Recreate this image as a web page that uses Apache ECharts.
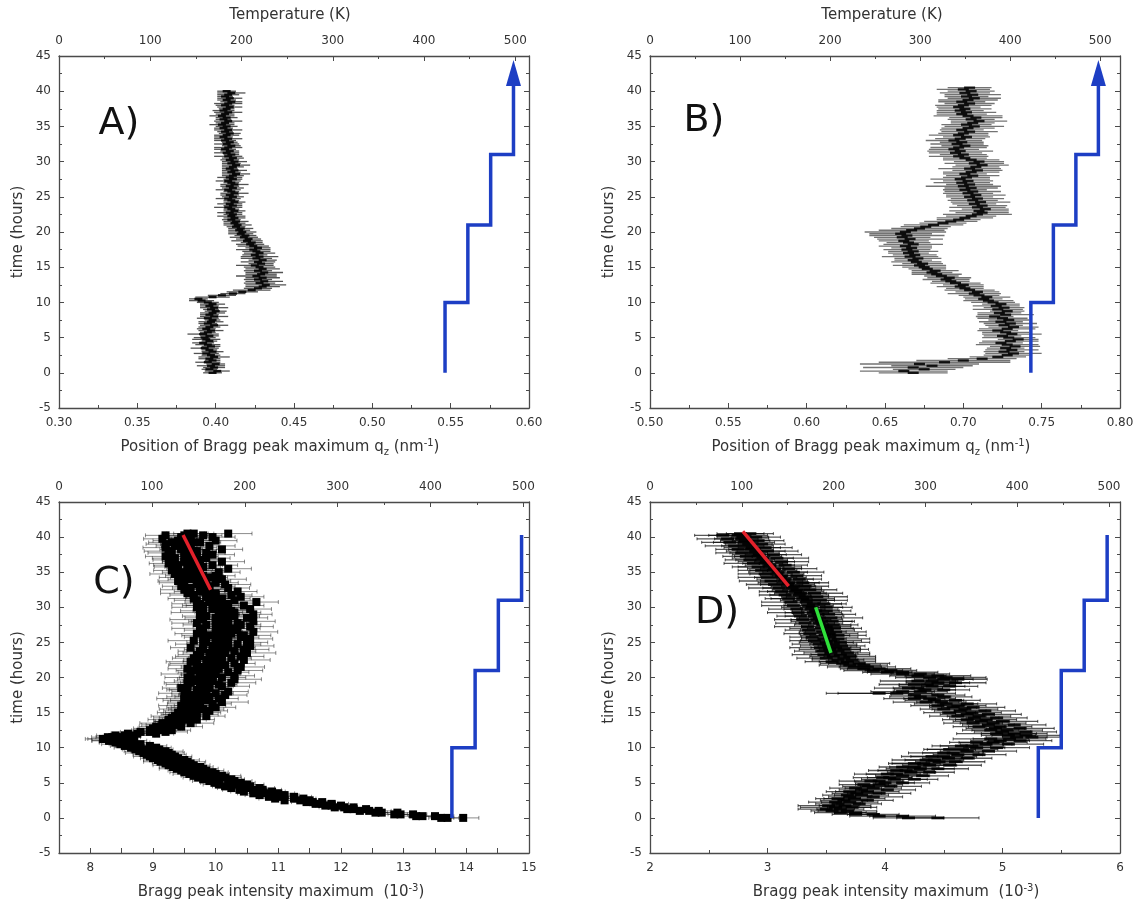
<!DOCTYPE html>
<html>
<head>
<meta charset="utf-8">
<script src="https://cdn.jsdelivr.net/npm/echarts@6/dist/echarts.min.js"></script>
<style>
html,body{margin:0;padding:0;background:#fff;}
#chart{width:1137px;height:905px;}
</style>
</head>
<body>
<div id="chart"></div>
<script>
// ---- measurement times (hours) ----
const hours = [0,0.25,0.5,0.75,1,1.25,1.5,1.75,2,2.25,2.5,2.75,3,3.25,3.5,3.75,4,4.25,4.5,4.75,5,5.25,5.5,5.75,6,6.25,6.5,6.75,7,7.25,7.5,7.75,8,8.25,8.5,8.75,9,9.25,9.5,9.75,10,10.25,10.5,10.75,11,11.25,11.5,11.75,12,12.25,12.5,12.75,13,13.25,13.5,13.75,14,14.25,14.5,14.75,15,15.25,15.5,15.75,16,16.25,16.5,16.75,17,17.25,17.5,17.75,18,18.25,18.5,18.75,19,19.25,19.5,19.75,20,20.25,20.5,20.75,21,21.25,21.5,21.75,22,22.25,22.5,22.75,23,23.25,23.5,23.75,24,24.25,24.5,24.75,25,25.25,25.5,25.75,26,26.25,26.5,26.75,27,27.25,27.5,27.75,28,28.25,28.5,28.75,29,29.25,29.5,29.75,30,30.25,30.5,30.75,31,31.25,31.5,31.75,32,32.25,32.5,32.75,33,33.25,33.5,33.75,34,34.25,34.5,34.75,35,35.25,35.5,35.75,36,36.25,36.5,36.75,37,37.25,37.5,37.75,38,38.25,38.5,38.75,39,39.25,39.5,39.75,40,40.25,40.5];

// ---- Panel A: Bragg peak position q_z (nm^-1) ----
const aPos = [
0.398,0.401,0.396,0.399,0.397,0.400,0.395,0.398,0.396,0.399,
0.397,0.394,0.398,0.396,0.393,0.397,0.395,0.392,0.396,0.394,
0.393,0.396,0.392,0.395,0.397,0.394,0.396,0.399,0.395,0.397,
0.398,0.395,0.399,0.396,0.398,0.400,0.397,0.399,0.396,0.398,
0.395,0.391,0.389,0.398,0.404,0.411,0.417,0.423,0.427,0.430,
0.432,0.428,0.431,0.427,0.430,0.426,0.429,0.431,0.427,0.430,
0.428,0.425,0.429,0.427,0.430,0.426,0.428,0.425,0.428,0.426,
0.424,0.427,0.424,0.422,0.423,0.420,0.421,0.418,0.419,0.416,
0.417,0.415,0.416,0.413,0.414,0.412,0.413,0.410,0.412,0.410,
0.411,0.409,0.412,0.410,0.408,0.411,0.409,0.412,0.410,0.408,
0.411,0.409,0.412,0.410,0.408,0.411,0.409,0.412,0.410,0.408,
0.411,0.409,0.411,0.413,0.410,0.412,0.409,0.411,0.413,0.410,
0.412,0.409,0.411,0.408,0.410,0.407,0.409,0.406,0.408,0.410,
0.407,0.409,0.406,0.408,0.405,0.407,0.409,0.406,0.408,0.405,
0.407,0.404,0.406,0.408,0.405,0.407,0.404,0.406,0.408,0.405,
0.407,0.409,0.406,0.408,0.410,0.407,0.409,0.406,0.408,0.410,
0.407];
const aErr = [
.006,.008,.005,.007,.009,.006,.008,.005,.007,.010,
.006,.008,.007,.005,.009,.006,.008,.007,.005,.009,
.007,.006,.010,.005,.008,.006,.007,.009,.006,.008,
.005,.007,.009,.006,.008,.007,.005,.009,.006,.008,
.007,.008,.006,.011,.009,.008,.010,.012,.009,.011,
.013,.010,.012,.009,.011,.013,.010,.012,.009,.011,
.010,.012,.008,.011,.009,.010,.012,.008,.010,.009,
.011,.008,.010,.009,.007,.010,.008,.009,.007,.008,
.009,.007,.008,.006,.009,.007,.008,.006,.007,.009,
.006,.008,.007,.005,.009,.006,.008,.007,.005,.008,
.007,.006,.009,.005,.008,.007,.006,.009,.005,.008,
.006,.008,.007,.009,.006,.008,.005,.007,.009,.006,
.008,.006,.007,.009,.005,.008,.006,.007,.009,.006,
.008,.005,.007,.009,.006,.008,.007,.005,.009,.006,
.007,.008,.006,.009,.005,.007,.008,.006,.009,.007,
.005,.008,.006,.009,.007,.006,.008,.005,.007,.009,
.006];

// ---- Panel B: Bragg peak position q_z (nm^-1) ----
const bPos = [
0.668,0.662,0.675,0.668,0.680,0.672,0.688,0.700,0.712,0.722,
0.728,0.732,0.726,0.731,0.727,0.733,0.728,0.724,0.730,0.735,
0.729,0.725,0.731,0.727,0.722,0.728,0.732,0.726,0.730,0.724,
0.729,0.725,0.720,0.727,0.723,0.728,0.722,0.726,0.721,0.724,
0.719,0.716,0.713,0.715,0.710,0.707,0.709,0.704,0.701,0.698,
0.700,0.695,0.692,0.689,0.691,0.686,0.683,0.680,0.682,0.677,
0.675,0.672,0.674,0.670,0.668,0.671,0.666,0.669,0.665,0.668,
0.664,0.667,0.663,0.668,0.665,0.662,0.666,0.661,0.664,0.660,
0.663,0.667,0.672,0.676,0.681,0.687,0.692,0.697,0.701,0.705,
0.709,0.712,0.710,0.714,0.709,0.712,0.707,0.711,0.706,0.709,
0.704,0.708,0.703,0.706,0.701,0.705,0.700,0.704,0.699,0.703,
0.698,0.702,0.706,0.701,0.705,0.709,0.704,0.708,0.712,0.707,
0.710,0.705,0.701,0.697,0.700,0.695,0.698,0.694,0.697,0.701,
0.696,0.699,0.694,0.698,0.702,0.697,0.700,0.704,0.699,0.703,
0.707,0.702,0.706,0.710,0.705,0.708,0.703,0.699,0.702,0.698,
0.701,0.697,0.700,0.704,0.699,0.703,0.707,0.702,0.706,0.701,
0.705,0.700,0.704];
const bErr = [
.022,.028,.020,.032,.026,.038,.042,.030,.022,.018,
.015,.018,.013,.017,.012,.016,.020,.014,.018,.013,
.017,.012,.019,.015,.013,.018,.016,.012,.017,.014,
.013,.016,.012,.018,.014,.011,.016,.013,.015,.012,
.014,.016,.012,.015,.013,.017,.014,.016,.012,.015,
.013,.016,.012,.015,.014,.011,.016,.013,.015,.012,
.014,.017,.013,.016,.012,.015,.018,.014,.013,.016,
.015,.013,.017,.019,.014,.016,.021,.018,.024,.020,
.026,.021,.018,.016,.019,.015,.017,.014,.018,.016,
.022,.017,.019,.015,.018,.016,.014,.019,.016,.017,
.015,.019,.016,.018,.014,.017,.024,.015,.018,.016,
.019,.015,.017,.014,.018,.016,.020,.015,.017,.019,
.016,.018,.014,.019,.015,.017,.021,.016,.018,.015,
.017,.014,.018,.016,.015,.019,.016,.018,.014,.017,
.019,.016,.014,.018,.015,.017,.022,.016,.019,.015,
.017,.014,.018,.016,.015,.019,.017,.014,.018,.016,
.015,.017,.014];

// ---- Panel C: Bragg peak intensity maximum (10^-3), three point sets per time ----
const cInt = [
13.95,13.5,13.15,12.9,12.6,12.4,12.2,12.0,11.85,11.7,
11.5,11.4,11.25,11.1,11.0,10.9,10.75,10.7,10.55,10.5,
10.4,10.3,10.25,10.15,10.1,10.0,9.95,9.85,9.8,9.75,
9.65,9.6,9.55,9.5,9.4,9.35,9.3,9.25,9.2,9.1,
9.05,8.95,8.8,8.7,8.6,8.45,8.35,8.55,8.75,8.95,
9.1,9.0,9.25,9.15,9.35,9.25,9.5,9.3,9.6,9.45,
9.7,9.45,9.8,9.55,9.75,9.95,9.6,9.85,9.5,9.9,
9.65,10.0,9.7,9.55,9.9,9.75,10.05,9.6,9.95,9.7,
10.1,9.75,9.9,10.2,9.65,10.0,9.8,10.15,9.7,10.05,
9.85,10.25,9.75,10.1,9.9,10.3,9.8,10.15,9.95,10.35,
9.85,10.2,10.0,10.4,9.9,10.25,10.05,9.8,10.3,10.1,
9.85,10.35,10.0,10.2,9.8,10.3,10.05,9.75,10.25,9.95,
10.15,9.8,10.2,9.9,9.7,10.1,9.85,9.65,10.0,9.75,
9.9,9.6,9.85,9.7,9.5,9.8,9.6,9.9,9.55,9.75,
9.45,9.7,9.55,9.8,9.4,9.65,9.5,9.75,9.35,9.6,
9.5,9.3,9.7,9.45,9.6,9.35,9.55,9.75,9.4,9.6,
9.45,9.8,9.55];
const cErr = [
.25,.30,.22,.28,.20,.26,.24,.22,.27,.21,
.25,.20,.28,.23,.26,.21,.30,.24,.22,.27,
.23,.28,.21,.26,.30,.22,.25,.28,.24,.21,
.26,.22,.29,.24,.21,.27,.23,.25,.28,.22,
.24,.27,.21,.25,.30,.28,.26,.24,.29,.23,
.27,.31,.25,.33,.28,.24,.35,.29,.26,.32,
.38,.28,.33,.26,.41,.30,.36,.27,.44,.31,
.35,.28,.40,.33,.30,.37,.29,.42,.34,.31,
.38,.30,.45,.33,.28,.40,.35,.31,.43,.29,
.36,.32,.39,.28,.42,.34,.30,.48,.33,.37,
.31,.40,.35,.29,.44,.33,.38,.30,.41,.34,
.37,.31,.43,.35,.29,.40,.33,.46,.36,.30,
.39,.33,.42,.30,.36,.45,.32,.38,.31,.41,
.34,.29,.38,.33,.40,.31,.36,.29,.35,.32,
.30,.37,.33,.28,.39,.32,.35,.30,.36,.33,
.29,.38,.31,.34,.42,.30,.36,.33,.40,.31,
.35,.30,.33];
const cInt2 = [
13.7,13.3,12.95,12.65,12.45,12.2,12.05,11.85,11.7,11.55,
11.35,11.25,11.05,10.95,10.8,10.75,10.6,10.5,10.45,10.3,
10.25,10.2,10.05,10.0,9.9,9.85,9.75,9.7,9.6,9.55,
9.5,9.4,9.35,9.25,9.2,9.15,9.05,9.0,8.95,8.9,
8.8,8.7,8.55,8.45,8.3,8.2,8.5,8.7,9.05,9.2,
9.3,9.2,9.45,9.4,9.6,9.35,9.7,9.55,9.85,9.65,
9.4,9.9,9.5,10.0,9.45,9.7,10.1,9.5,10.05,9.6,
10.15,9.5,10.2,9.85,9.45,10.1,9.55,10.25,9.65,10.3,
9.55,10.3,9.6,9.75,10.35,9.55,10.4,9.7,10.3,9.6,
10.45,9.65,10.4,9.7,10.5,9.75,10.45,9.6,10.55,9.8,
10.5,9.65,10.55,9.8,10.45,9.7,10.6,10.35,9.75,10.55,
10.4,9.7,10.6,9.75,10.5,9.85,10.6,10.3,9.8,10.55,
9.7,10.45,9.75,10.65,10.3,9.65,10.4,10.25,9.55,10.35,
9.5,10.2,9.45,10.15,10.0,9.4,10.1,9.45,10.0,9.35,
10.05,9.3,10.2,9.35,9.95,9.25,10.1,9.3,9.85,9.2,
9.95,9.85,9.25,10.1,9.2,9.9,9.2,9.3,10.0,9.15,
9.95,9.2,10.2];
const cErr2 = [
.18,.22,.2,.25,.19,.23,.21,.26,.2,.24,
.22,.27,.2,.24,.21,.26,.23,.28,.22,.25,
.24,.2,.27,.23,.26,.21,.28,.24,.22,.27,
.23,.26,.21,.28,.25,.22,.27,.24,.3,.23,
.26,.29,.25,.31,.27,.24,.3,.33,.28,.35,
.3,.27,.34,.29,.37,.31,.28,.36,.3,.39,
.33,.29,.4,.32,.36,.3,.42,.34,.31,.38,
.35,.41,.32,.37,.3,.44,.34,.39,.31,.43,
.36,.32,.47,.35,.4,.31,.38,.45,.33,.39,
.42,.34,.37,.3,.46,.35,.4,.32,.38,.44,
.33,.41,.36,.3,.43,.35,.39,.31,.45,.37,
.32,.4,.35,.48,.33,.38,.3,.42,.36,.34,
.4,.32,.45,.35,.3,.41,.37,.33,.43,.31,
.38,.34,.3,.41,.36,.32,.39,.35,.31,.4,
.34,.29,.37,.33,.4,.31,.36,.3,.38,.32,
.35,.3,.39,.33,.36,.41,.31,.37,.34,.3,
.36,.32,.38];
const cInt3 = [
13.6,13.2,12.85,12.55,12.3,12.1,11.9,11.75,11.6,11.45,
11.1,10.95,10.85,10.7,10.6,10.45,10.38,10.25,10.15,10.05,
9.98,9.9,9.8,9.72,9.65,9.58,9.5,9.45,9.38,9.32,
9.25,9.2,9.12,9.08,9.0,8.95,8.9,8.85,8.78,8.72,
8.65,8.55,8.48,8.4,8.3,8.25,8.28,8.4,8.6,8.8,
8.95,9.1,9.05,9.2,9.15,9.3,9.25,9.4,9.35,9.45,
9.55,9.6,9.65,9.55,9.7,9.6,9.75,9.7,9.8,9.65,
9.8,9.75,9.85,9.7,9.8,9.9,9.75,9.85,9.8,9.95,
9.85,9.95,10.0,9.85,9.95,10.05,9.9,10.0,10.1,9.9,
10.05,9.95,10.1,10.0,10.15,9.95,10.05,10.2,10.0,10.1,
10.05,10.15,10.0,10.2,10.1,10.0,10.15,10.05,10.2,10.0,
10.1,10.2,10.05,10.15,10.0,10.1,10.2,10.05,10.1,10.0,
10.05,9.95,10.1,9.9,10.0,9.95,9.85,10.0,9.9,9.8,
9.85,9.75,9.9,9.8,9.7,9.85,9.75,9.65,9.8,9.7,
9.6,9.75,9.65,9.55,9.7,9.6,9.5,9.65,9.55,9.7,
9.6,9.5,9.65,9.55,9.45,9.6,9.5,9.65,9.55,9.45,
9.6,9.5,9.65];
const cErr3 = [
.2,.24,.21,.19,.23,.2,.25,.22,.19,.24,
.21,.26,.2,.23,.25,.21,.27,.22,.2,.25,
.22,.27,.21,.24,.2,.26,.23,.21,.28,.22,
.25,.21,.27,.23,.2,.26,.22,.29,.24,.21,
.27,.23,.3,.25,.28,.33,.26,.3,.27,.32,
.29,.34,.27,.31,.36,.28,.33,.3,.38,.29,
.35,.31,.4,.33,.29,.37,.32,.42,.34,.3,
.39,.33,.36,.44,.31,.38,.35,.41,.32,.37,
.43,.34,.39,.31,.46,.36,.33,.4,.35,.42,
.32,.38,.45,.34,.37,.41,.33,.39,.36,.47,
.34,.4,.31,.38,.43,.35,.37,.32,.42,.36,
.39,.33,.44,.37,.31,.41,.35,.38,.46,.34,
.37,.42,.32,.39,.35,.43,.31,.36,.4,.34,
.38,.33,.41,.35,.3,.39,.34,.37,.32,.36,
.33,.38,.3,.36,.41,.32,.35,.39,.31,.34,
.37,.32,.36,.4,.31,.35,.38,.33,.36,.3,
.34,.37,.32];

// ---- Panel D: Bragg peak intensity maximum (10^-3), two point sets per time ----
const dInt = [
4.45,4.15,3.9,3.75,3.68,3.62,3.58,3.66,3.6,3.7,
3.65,3.74,3.7,3.8,3.76,3.85,3.8,3.9,3.86,3.95,
4.0,3.95,4.08,4.04,4.15,4.1,4.22,4.18,4.3,4.25,
4.38,4.33,4.46,4.42,4.54,4.5,4.62,4.58,4.7,4.66,
4.78,4.74,4.86,4.92,4.98,5.06,5.12,5.05,5.1,5.0,
5.04,4.94,4.98,4.88,4.92,4.82,4.86,4.76,4.8,4.7,
4.74,4.64,4.68,4.58,4.62,4.52,4.48,4.42,4.38,4.3,
4.25,3.95,4.3,4.34,4.28,4.4,4.36,4.45,4.4,4.5,
4.38,4.28,4.15,4.02,3.9,3.82,3.74,3.7,3.64,3.68,
3.6,3.65,3.56,3.62,3.54,3.6,3.53,3.58,3.52,3.56,
3.5,3.54,3.48,3.53,3.49,3.52,3.47,3.51,3.46,3.5,
3.47,3.44,3.46,3.42,3.44,3.4,3.43,3.39,3.41,3.37,
3.38,3.35,3.39,3.33,3.34,3.3,3.32,3.27,3.28,3.24,
3.25,3.21,3.22,3.17,3.18,3.14,3.15,3.11,3.12,3.08,
3.09,3.05,3.06,3.02,3.02,2.98,2.99,2.95,2.96,2.92,
2.93,2.89,2.9,2.86,2.87,2.83,2.84,2.8,2.81,2.78,
2.79,2.75,2.77];
const dErr = [
.35,.28,.22,.18,.25,.2,.3,.22,.19,.24,
.2,.26,.18,.23,.21,.27,.19,.24,.22,.2,
.25,.21,.28,.19,.23,.26,.2,.24,.29,.21,
.23,.27,.2,.25,.22,.28,.21,.26,.23,.3,
.24,.27,.22,.29,.25,.31,.26,.23,.28,.24,
.3,.25,.27,.22,.28,.24,.26,.21,.27,.23,
.25,.22,.28,.2,.24,.27,.21,.25,.22,.26,
.2,.45,.23,.26,.21,.28,.24,.27,.22,.25,
.29,.24,.27,.21,.25,.2,.23,.26,.19,.24,
.22,.27,.2,.25,.23,.19,.26,.21,.24,.2,
.23,.26,.19,.24,.21,.25,.2,.23,.27,.21,
.24,.2,.26,.22,.19,.25,.21,.24,.2,.23,
.26,.21,.24,.19,.23,.27,.2,.25,.22,.24,
.21,.25,.19,.23,.26,.2,.24,.22,.18,.23,
.25,.2,.23,.27,.21,.19,.24,.22,.26,.2,
.23,.21,.25,.19,.24,.22,.2,.26,.21,.23,
.22,.25,.2];
const dInt2 = [
4.2,3.95,3.75,3.62,3.55,3.5,3.72,3.52,3.78,3.58,
3.85,3.6,3.9,3.68,3.95,3.7,4.02,3.75,4.05,3.82,
4.15,3.88,4.25,3.98,4.32,4.02,4.38,4.1,4.45,4.15,
4.55,4.25,4.6,4.35,4.7,4.4,4.8,4.5,4.88,4.55,
4.95,4.65,5.05,4.78,5.15,4.9,5.25,5.2,4.95,5.2,
4.9,5.15,4.8,5.1,4.75,5.0,4.7,4.95,4.62,4.88,
4.55,4.85,4.5,4.75,4.45,4.7,4.35,4.6,4.25,4.5,
4.45,4.1,4.15,4.5,4.2,4.55,4.25,4.6,4.28,4.62,
4.52,4.45,4.3,4.15,4.05,3.95,3.85,3.82,3.78,3.55,
3.72,3.5,3.7,3.48,3.68,3.47,3.65,3.45,3.63,3.44,
3.62,3.4,3.6,3.38,3.6,3.36,3.58,3.35,3.57,3.34,
3.56,3.32,3.55,3.3,3.54,3.28,3.52,3.26,3.5,3.25,
3.5,3.22,3.48,3.2,3.45,3.18,3.42,3.15,3.4,3.12,
3.36,3.1,3.32,3.06,3.3,3.03,3.27,3.0,3.25,2.98,
3.22,2.95,3.18,2.92,3.15,2.88,3.12,2.85,3.08,2.82,
3.05,2.78,3.0,2.75,2.98,2.72,2.95,2.68,2.92,2.66,
2.9,2.62,2.85];
const dErr2 = [
.3,.25,.2,.22,.18,.24,.21,.26,.19,.23,
.22,.19,.25,.21,.27,.2,.24,.22,.26,.21,
.23,.27,.2,.25,.22,.28,.21,.24,.26,.2,
.27,.22,.25,.29,.21,.26,.23,.3,.24,.22,
.28,.25,.3,.23,.27,.32,.25,.29,.34,.26,
.24,.29,.22,.27,.25,.3,.21,.26,.24,.28,
.22,.26,.2,.27,.23,.25,.28,.21,.26,.24,
.23,.5,.27,.22,.29,.24,.3,.26,.32,.25,
.34,.28,.25,.3,.22,.27,.24,.2,.26,.23,
.2,.25,.22,.27,.19,.24,.21,.26,.2,.23,
.25,.21,.27,.19,.24,.22,.26,.2,.23,.28,
.21,.25,.19,.24,.27,.2,.23,.26,.21,.24,
.22,.27,.19,.25,.23,.2,.26,.22,.24,.19,
.23,.26,.2,.24,.22,.27,.19,.25,.21,.23,
.26,.2,.24,.22,.19,.25,.23,.21,.27,.2,
.24,.22,.26,.19,.23,.25,.2,.24,.22,.26,
.21,.24,.2];

// ---- linear fits (x, time) ----
const cFitRed = [[9.48, 40.3], [9.92, 32.5]];
const dFitRed = [[2.79, 40.8], [3.18, 33.0]];
const dFitGreen = [[3.41, 30.0], [3.54, 23.5]];

// ---- temperature program (K) ----
const stepTemps = [423, 448, 473, 498];
const stepTimes = [0, 10, 21, 31];
const rampEndAB = 41;
const rampEndCD = 40.3;
const arrowAt = 42.6;

// ---- axis tick settings ----
const timeTicks = [-5, 45, 5];
const tempTicks = [0, 500, 100];

const FONT = '"DejaVu Sans", "Liberation Sans", sans-serif';
const TXT = '#333';
const LINE = '#4a4a4a';
const BLUE = '#1d3ec4';

function stepData(endT) {
  const d = [];
  for (let i = 0; i < stepTemps.length; i++) {
    const t0 = stepTimes[i];
    const t1 = i + 1 < stepTimes.length ? stepTimes[i + 1] : endT;
    d.push([stepTemps[i], t0], [stepTemps[i], t1]);
  }
  return d;
}

function errSeries(pos, err, xi, yi, opt) {
  const data = pos.map((v, i) => [v, hours[i], err[i]]);
  return {
    type: 'custom', xAxisIndex: xi, yAxisIndex: yi, clip: true, silent: true,
    animation: false, encode: { x: 0, y: 1 }, data: data, z: 2,
    renderItem: function (params, api) {
      const x = api.value(0), y = api.value(1), e = api.value(2);
      const a = api.coord([x - e, y]), b = api.coord([x + e, y]), c = api.coord([x, y]);
      const ch = [{ type: 'line', shape: { x1: a[0], y1: a[1], x2: b[0], y2: b[1] },
        style: { stroke: opt.bar, lineWidth: opt.bw } }];
      if (opt.cap) {
        ch.push({ type: 'line', shape: { x1: a[0], y1: a[1] - opt.cap, x2: a[0], y2: a[1] + opt.cap }, style: { stroke: opt.bar, lineWidth: 1 } });
        ch.push({ type: 'line', shape: { x1: b[0], y1: b[1] - opt.cap, x2: b[0], y2: b[1] + opt.cap }, style: { stroke: opt.bar, lineWidth: 1 } });
      }
      if (opt.mw) {
        ch.push({ type: 'rect', shape: { x: c[0] - opt.mw / 2, y: c[1] - opt.mh / 2, width: opt.mw, height: opt.mh },
          style: { fill: opt.markColor } });
      }
      return { type: 'group', children: ch };
    }
  };
}

const rich = {
  sub: { fontSize: 10, color: TXT, fontFamily: FONT, padding: [9, 0, 0, 0] },
  sup: { fontSize: 10, color: TXT, fontFamily: FONT, padding: [0, 0, 9, 0] }
};

const styleA = { bar: 'rgba(0,0,0,0.68)', bw: 1.3, mw: 8, mh: 2.4, markColor: 'rgba(0,0,0,0.9)' };
const styleB = { bar: 'rgba(0,0,0,0.55)', bw: 1.3, mw: 11, mh: 2.4, markColor: 'rgba(0,0,0,0.88)' };
const styleC = { bar: 'rgba(0,0,0,0.45)', bw: 1, cap: 2, mw: 8, mh: 8, markColor: '#000' };
const styleD = { bar: 'rgba(0,0,0,0.66)', bw: 1.3, cap: 1.5, mw: 13, mh: 2.8, markColor: 'rgba(0,0,0,0.9)' };

const panels = [
  { grid: { left: 59, top: 56, width: 470, height: 352 }, min: 0.30, max: 0.60, iv: 0.05, minor: true,
    fmt: v => v.toFixed(2), tMax: 515, name: 'Position of Bragg peak maximum q{sub|z} (nm{sup|-1})',
    namePad: [0, 28, 0, 0], topName: 'Temperature (K)', topPad: [0, 8, 0, 0],
    sets: [[aPos, aErr, styleA]], arrow: true, letter: 'A)', lp: [119, 124] },
  { grid: { left: 650, top: 56, width: 470, height: 352 }, min: 0.50, max: 0.80, iv: 0.05, minor: true,
    fmt: v => v.toFixed(2), tMax: 522, name: 'Position of Bragg peak maximum q{sub|z} (nm{sup|-1})',
    namePad: [0, 28, 0, 0], topName: 'Temperature (K)', topPad: [0, 6, 0, 0],
    sets: [[bPos, bErr, styleB]], arrow: true, letter: 'B)', lp: [704, 121] },
  { grid: { left: 59, top: 502, width: 470, height: 351 }, min: 7.5, max: 15, iv: 0.5, minor: false,
    fmt: v => (Math.abs(v - Math.round(v)) < 1e-6 ? String(Math.round(v)) : ''), tMax: 506,
    name: 'Bragg peak intensity maximum  (10{sup|-3})', namePad: [0, 26, 0, 0], topName: '', topPad: 0,
    sets: [[cInt, cErr, styleC], [cInt2, cErr2, styleC], [cInt3, cErr3, styleC]], arrow: false,
    letter: 'C)', lp: [114, 583], fits: [[cFitRed, '#e3212b']] },
  { grid: { left: 650, top: 502, width: 470, height: 351 }, min: 2, max: 6, iv: 1, minor: true,
    fmt: v => String(v), tMax: 512, name: 'Bragg peak intensity maximum  (10{sup|-3})',
    namePad: [0, 0, 0, 22], topName: '', topPad: 0,
    sets: [[dInt, dErr, styleD], [dInt2, dErr2, styleD]], arrow: false, letter: 'D)', lp: [717, 613],
    fits: [[dFitRed, '#e3212b'], [dFitGreen, '#2fe03a']] }
];

const option = { animation: false, backgroundColor: '#fff', grid: [], xAxis: [], yAxis: [], series: [], graphic: [] };

const axisCommon = {
  axisLine: { show: true, onZero: false, lineStyle: { color: LINE, width: 1.3 } },
  axisTick: { show: true, inside: true, length: 5, lineStyle: { color: LINE, width: 1 } },
  splitLine: { show: false },
  axisLabel: { color: TXT, fontSize: 12, fontFamily: FONT, margin: 9 }
};

panels.forEach((p, g) => {
  option.grid.push(Object.assign({ containLabel: false }, p.grid));
  option.xAxis.push(Object.assign({}, axisCommon, {
    type: 'value', gridIndex: g, position: 'bottom', min: p.min, max: p.max, interval: p.iv,
    minorTick: { show: p.minor, splitNumber: 2, length: 3, lineStyle: { color: LINE } },
    axisLabel: Object.assign({}, axisCommon.axisLabel, { formatter: p.fmt }),
    name: p.name, nameLocation: 'middle', nameGap: 30,
    nameTextStyle: { color: TXT, fontSize: 15, fontFamily: FONT, rich: rich, padding: p.namePad }
  }));
  option.xAxis.push(Object.assign({}, axisCommon, {
    type: 'value', gridIndex: g, position: 'top', min: tempTicks[0], max: p.tMax, interval: tempTicks[2],
    minorTick: { show: true, splitNumber: 2, length: 3, lineStyle: { color: LINE } },
    axisLabel: Object.assign({}, axisCommon.axisLabel, {
      formatter: v => (v % 100 === 0 && v <= tempTicks[1] ? String(v) : '') }),
    name: p.topName, nameLocation: 'middle', nameGap: 33,
    nameTextStyle: { color: TXT, fontSize: 15, fontFamily: FONT, padding: p.topPad }
  }));
  option.yAxis.push(Object.assign({}, axisCommon, {
    type: 'value', gridIndex: g, position: 'left', min: timeTicks[0], max: timeTicks[1], interval: timeTicks[2],
    minorTick: { show: true, splitNumber: 2, length: 3, lineStyle: { color: LINE } },
    axisLabel: Object.assign({}, axisCommon.axisLabel, { margin: 8 }),
    name: 'time (hours)', nameLocation: 'middle', nameGap: 33, nameRotate: 90,
    nameTextStyle: { color: TXT, fontSize: 15, fontFamily: FONT }
  }));
  option.yAxis.push(Object.assign({}, axisCommon, {
    type: 'value', gridIndex: g, position: 'right', min: timeTicks[0], max: timeTicks[1], interval: timeTicks[2],
    minorTick: { show: true, splitNumber: 2, length: 3, lineStyle: { color: LINE } },
    axisLabel: { show: false }
  }));

  const xb = 2 * g, xt = 2 * g + 1, yl = 2 * g;
  p.sets.forEach(s => option.series.push(errSeries(s[0], s[1], xb, yl, s[2])));
  (p.fits || []).forEach(f => {
    option.series.push({ type: 'line', xAxisIndex: xb, yAxisIndex: yl, data: f[0], symbol: 'none',
      lineStyle: { color: f[1], width: 3.5 }, z: 5, silent: true });
  });
  option.series.push({ type: 'line', xAxisIndex: xt, yAxisIndex: yl, data: stepData(p.arrow ? rampEndAB : rampEndCD),
    symbol: 'none', lineStyle: { color: BLUE, width: 3.5, join: 'miter' }, z: 6, silent: true });
  if (p.arrow) {
    option.series.push({ type: 'scatter', xAxisIndex: xt, yAxisIndex: yl, data: [[stepTemps[3], arrowAt]],
      symbol: 'triangle', symbolSize: [15, 26], itemStyle: { color: BLUE, opacity: 1 }, z: 7, silent: true });
  }
  option.graphic.push({ type: 'text', x: p.lp[0], y: p.lp[1],
    style: { text: p.letter, fontSize: 38, fontFamily: FONT, fill: '#111', align: 'center', verticalAlign: 'middle' } });
});

const chart = echarts.init(document.getElementById('chart'), null, { renderer: 'canvas' });
chart.setOption(option);
</script>
</body>
</html>
